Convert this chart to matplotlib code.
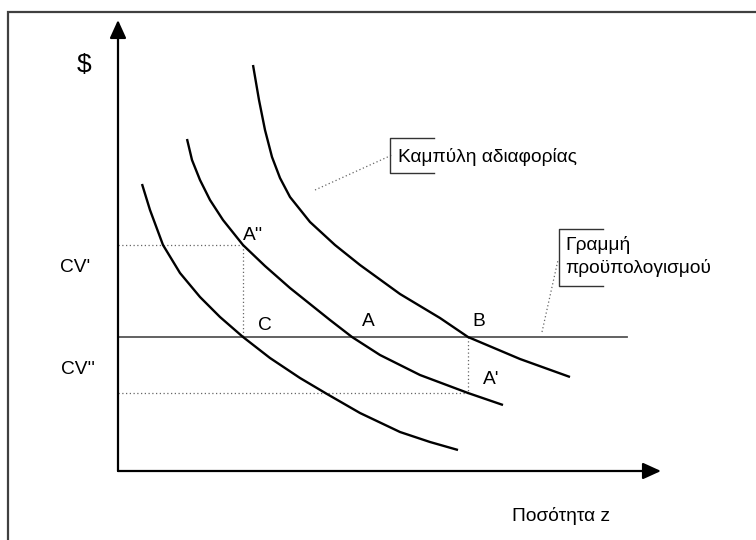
import matplotlib
matplotlib.use("Agg")
import matplotlib.pyplot as plt
from matplotlib.patches import Rectangle

plt.rcParams['font.family'] = ['Liberation Sans', 'DejaVu Sans']

# ---- data (units: quantity z on x, $ on y) ----
curve1_x = [2.4, 3.2, 4.5, 6.2, 8.2, 10.2, 12.5, 15.2, 18.2, 20.9, 24.2, 28.2, 31.2, 34.0]
curve1_y = [28.7, 26.1, 22.6, 19.8, 17.4, 15.4, 13.4, 11.3, 9.3, 7.7, 5.8, 3.9, 2.9, 2.1]
curve2_x = [6.9, 7.4, 8.2, 9.2, 10.5, 12.5, 14.7, 17.2, 21.2, 23.4, 26.2, 30.2, 35.0, 38.5]
curve2_y = [33.2, 31.1, 29.1, 27.1, 25.1, 22.6, 20.5, 18.3, 15.1, 13.4, 11.6, 9.6, 7.8, 6.6]
curve3_x = [13.5, 14.1, 14.7, 15.4, 16.2, 17.2, 19.2, 21.7, 24.2, 28.2, 32.2, 35.0, 40.2, 45.2]
curve3_y = [40.6, 37.1, 34.1, 31.4, 29.3, 27.4, 24.9, 22.6, 20.6, 17.7, 15.3, 13.4, 11.2, 9.4]

budget_y = 13.4
budget_x_end = 50.9
cv1_y = 22.6      # CV' level (through A'')
cv2_y = 7.8       # CV'' level (through A')
c_x = 12.5        # C / A'' quantity
b_x = 35.0        # B / A' quantity

x_max, y_max = 54.3, 45.1

fig = plt.figure(figsize=(7.56, 5.4), dpi=100)
ax = fig.add_axes([118/756, (540-471)/540, (756-118)/756, 471/540])
ax.set_xlim(0, 63.8)
ax.set_ylim(0, 47.1)
ax.axis('off')

# frame around figure
fig.patches.append(Rectangle((8/756, -0.1), 1.2, (540-12)/540 + 0.1,
                             transform=fig.transFigure, fill=False,
                             edgecolor='#404040', linewidth=1.6))

# axes arrows
ax.annotate('', xy=(x_max, 0), xytext=(0, 0),
            arrowprops=dict(arrowstyle='-|>,head_length=1.1,head_width=0.5',
                            color='black', lw=1.6, shrinkA=0, shrinkB=0))
ax.annotate('', xy=(0, y_max), xytext=(0, 0),
            arrowprops=dict(arrowstyle='-|>,head_length=1.1,head_width=0.5',
                            color='black', lw=1.6, shrinkA=0, shrinkB=0))

# budget line
ax.plot([0, budget_x_end], [budget_y, budget_y], color='#555555', lw=1.3)

# dotted helper lines
dot = dict(color='#666666', lw=0.9, linestyle=(0, (1, 2)))
ax.plot([0, c_x], [cv1_y, cv1_y], **dot)
ax.plot([c_x, c_x], [cv1_y, budget_y], **dot)
ax.plot([0, b_x], [cv2_y, cv2_y], **dot)
ax.plot([b_x, b_x], [budget_y, cv2_y], **dot)

# indifference curves
for cx, cy in [(curve1_x, curve1_y), (curve2_x, curve2_y), (curve3_x, curve3_y)]:
    ax.plot(cx, cy, color='black', lw=1.7, solid_capstyle='butt', solid_joinstyle='round')

fs = 13.8
ax.text(-3.4, 40.6, '$', fontsize=19, ha='center', va='center', clip_on=False)
ax.text(-4.3, 20.3, "CV'", fontsize=fs, ha='center', va='center', clip_on=False)
ax.text(-4.0, 10.1, "CV''", fontsize=fs, ha='center', va='center', clip_on=False)
ax.text(12.5, 23.6, "A''", fontsize=fs, ha='left', va='center')
ax.text(14.0, 14.6, "C", fontsize=fs, ha='left', va='center')
ax.text(24.4, 14.9, "A", fontsize=fs, ha='left', va='center')
ax.text(35.4, 14.9, "B", fontsize=fs, ha='left', va='center')
ax.text(36.5, 9.1, "A'", fontsize=fs, ha='left', va='center')
ax.text(39.4, -4.5, "Ποσότητα z", fontsize=fs, ha='left', va='center', clip_on=False)

# callout 1: indifference curve
ax.plot([19.7, 27.4], [28.1, 31.6], **dot)
ax.plot([31.6, 27.2, 27.2, 31.6], [33.3, 33.3, 29.8, 29.8], color='#333333', lw=1.0)
ax.text(28.0, 31.4, "Καμπύλη αδιαφορίας", fontsize=fs, ha='left', va='center')

# callout 2: budget line
ax.plot([42.4, 44.0], [13.9, 21.1], **dot)
ax.plot([48.5, 44.1, 44.1, 48.5], [24.2, 24.2, 18.5, 18.5], color='#333333', lw=1.0)
ax.text(44.7, 22.6, "Γραμμή", fontsize=fs, ha='left', va='center')
ax.text(44.7, 20.3, "προϋπολογισμού", fontsize=fs, ha='left', va='center')

fig.savefig('out.png', dpi=100)
